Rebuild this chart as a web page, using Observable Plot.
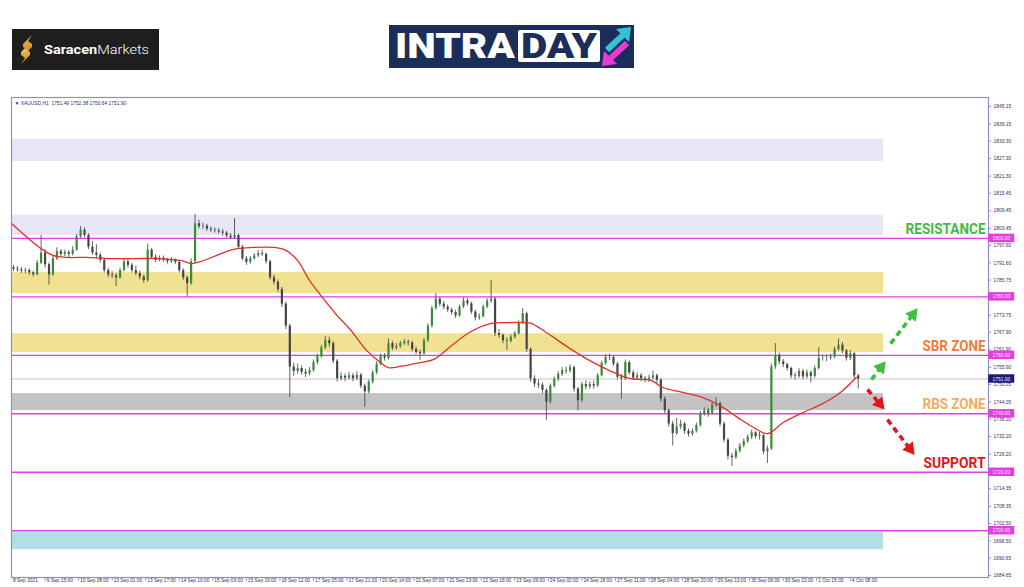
<!DOCTYPE html>
<html><head><meta charset="utf-8">
<script src="https://cdn.jsdelivr.net/npm/d3@7"></script>
<script src="https://cdn.jsdelivr.net/npm/@observablehq/plot@0.6"></script>
<style>
html,body{margin:0;padding:0;background:#fff;width:1024px;height:587px;overflow:hidden;font-family:Roboto,"Liberation Sans",sans-serif}
#header{position:relative;width:1024px;height:90px}
#chart svg{display:block}
</style></head><body>
<div id="header">
<svg width="1024" height="90" style="position:absolute;left:0;top:0">
 <defs><linearGradient id="gold" x1="0" y1="0" x2="0" y2="1"><stop offset="0" stop-color="#f6c453"/><stop offset="1" stop-color="#c88a1e"/></linearGradient></defs>
 <rect x="12" y="29" width="147" height="41" fill="#1e1e1e"/>
 <path d="M32 35 L23 44 L23 47 L28 51 L32 47 L32 44 L28 41 Z" fill="url(#gold)"/>
 <path d="M21 64 L30 55 L30 52 L25 48 L21 52 L21 55 L25 58 Z" fill="url(#gold)"/>
 <text x="44" y="54" font-family="Roboto" font-size="12.5" fill="#fff" textLength="105" lengthAdjust="spacingAndGlyphs"><tspan font-weight="700">Saracen</tspan><tspan font-weight="300">Markets</tspan></text>
 <rect x="389" y="25" width="245" height="43" fill="#1b2e5a"/>
 <text x="395" y="58" font-family="Roboto" font-weight="900" font-size="35" fill="#fff" textLength="120" lengthAdjust="spacingAndGlyphs">INTRA</text>
 <rect x="518" y="30" width="82" height="32" rx="2" fill="#fff"/>
 <text x="521" y="58" font-family="Roboto" font-weight="900" font-size="35" fill="#1b2e5a" textLength="76" lengthAdjust="spacingAndGlyphs">DAY</text>
 <line x1="607" y1="50" x2="623" y2="35" stroke="#2ec4d6" stroke-width="6"/>
 <polygon points="631,27 616,29 629,42" fill="#2ec4d6"/>
 <line x1="627" y1="43" x2="611" y2="58" stroke="#e83ad6" stroke-width="6"/>
 <polygon points="602,66 604,51 617,64" fill="#e83ad6"/>
</svg>
</div>
<div id="chart"></div>
<script>
// ---------- data ----------
const symbolHeader = "\u25BC XAUUSD,H1  1751.49 1752.38 1750.64 1751.90";
const xLabels = ["8 Sep 2021","9 Sep 15:00","10 Sep 08:00","13 Sep 01:00","13 Sep 17:00","14 Sep 10:00","15 Sep 03:00","15 Sep 19:00","16 Sep 12:00","17 Sep 05:00","17 Sep 21:00","20 Sep 14:00","21 Sep 07:00","21 Sep 23:00","22 Sep 16:00","23 Sep 09:00","24 Sep 02:00","24 Sep 18:00","27 Sep 11:00","28 Sep 04:00","28 Sep 20:00","29 Sep 13:00","30 Sep 06:00","30 Sep 22:00","1 Oct 15:00","4 Oct 08:00"];
const barsPerLabel = 17;
const yTickValues = [1845.15,1839.15,1833.30,1827.30,1821.30,1815.45,1809.45,1803.45,1797.60,1791.60,1785.75,1773.75,1767.90,1761.90,1755.90,1750.05,1744.05,1738.20,1732.20,1726.20,1714.35,1708.35,1702.50,1696.50,1690.65,1684.65];

// 2-hour candles (one entry per two H1 bars)
const firstOpen = 1790.0;
const closes = [
1789.5,1789.2,1788.8,1789.0,1788.2,1787.6,1791.5,1795.0,1791.0,1787.5,
1793.0,1795.5,1794.5,1795.2,1794.6,1796.0,1800.5,1802.8,1801.0,1797.0,
1795.0,1794.2,1792.5,1789.0,1787.5,1787.2,1786.5,1789.0,1792.0,1790.8,
1789.0,1788.0,1786.8,1785.6,1796.0,1793.5,1792.5,1793.2,1792.6,1792.0,
1792.5,1791.8,1789.0,1786.5,1784.5,1792.0,1805.0,1804.0,1804.2,1803.2,
1802.8,1802.6,1802.2,1801.8,1800.8,1800.2,1801.0,1797.0,1793.0,1791.8,
1793.0,1794.0,1794.8,1794.5,1792.0,1786.5,1785.0,1782.5,1777.5,1770.0,
1756.0,1754.5,1755.5,1754.2,1753.6,1754.8,1757.5,1759.5,1762.5,1765.0,
1764.0,1758.0,1752.0,1752.8,1752.2,1753.0,1752.0,1753.2,1749.5,1747.5,
1750.8,1754.0,1757.0,1759.5,1759.0,1764.0,1762.5,1763.0,1764.0,1764.5,
1764.2,1762.0,1761.0,1760.5,1765.0,1770.0,1776.0,1779.2,1777.5,1776.5,
1775.5,1774.6,1773.5,1776.5,1778.6,1777.6,1774.8,1772.8,1773.2,1776.5,
1778.5,1779.2,1767.5,1766.8,1765.0,1764.8,1766.2,1767.4,1771.0,1774.2,
1762.0,1752.0,1750.2,1749.8,1748.0,1744.0,1749.5,1751.8,1753.5,1754.8,
1754.6,1755.8,1748.5,1744.5,1750.0,1749.2,1750.0,1749.5,1753.0,1757.2,
1759.3,1759.2,1757.0,1752.5,1752.0,1757.5,1754.0,1752.2,1753.0,1752.0,
1751.6,1752.2,1753.0,1751.5,1745.0,1741.0,1736.5,1733.2,1735.5,1736.5,
1734.0,1733.0,1734.0,1736.0,1740.0,1741.0,1740.2,1743.0,1743.5,1736.5,
1731.0,1725.5,1725.0,1727.2,1729.0,1730.5,1732.0,1733.5,1732.2,1732.5,
1727.0,1728.0,1756.0,1760.0,1757.8,1756.8,1755.5,1753.0,1752.8,1754.5,
1752.6,1754.0,1752.8,1755.5,1759.0,1759.0,1759.0,1759.4,1762.0,1763.5,
1761.5,1759.0,1760.5,1753.0,1751.9];
const highs = [
1790.8,1790.4,1790.0,1789.8,1789.6,1788.8,1792.4,1801.0,1796.2,1791.6,
1793.8,1796.8,1796.2,1796.0,1795.8,1797.2,1801.4,1804.0,1803.6,1801.6,
1799.0,1797.8,1795.0,1793.2,1789.8,1788.6,1788.0,1789.8,1793.0,1792.8,
1791.4,1790.6,1788.8,1787.4,1798.0,1796.6,1794.4,1794.0,1794.0,1793.2,
1793.4,1793.0,1792.2,1789.6,1787.0,1793.0,1808.2,1806.2,1805.2,1804.8,
1804.0,1803.6,1803.4,1803.0,1802.4,1801.6,1806.8,1801.4,1797.6,1793.8,
1793.8,1794.8,1795.8,1796.0,1795.0,1792.6,1787.4,1785.8,1783.2,1778.2,
1770.6,1757.4,1757.0,1756.4,1755.2,1755.8,1758.4,1760.4,1763.4,1766.5,
1766.2,1764.6,1758.6,1754.0,1753.6,1754.2,1753.8,1754.4,1753.8,1750.2,
1751.6,1754.8,1757.8,1760.4,1760.6,1765.6,1764.8,1764.0,1764.8,1765.4,
1765.2,1764.8,1762.8,1761.8,1765.8,1770.8,1776.8,1781.2,1779.8,1778.4,
1777.2,1776.2,1775.4,1777.2,1779.6,1779.4,1778.2,1775.4,1774.2,1777.2,
1779.4,1785.6,1779.8,1768.8,1767.4,1766.0,1767.0,1768.2,1771.8,1776.0,
1774.8,1762.6,1753.0,1751.6,1750.6,1748.6,1750.2,1752.6,1754.4,1755.8,
1756.0,1756.8,1756.4,1749.0,1750.8,1751.4,1751.0,1751.2,1753.8,1758.0,
1760.2,1760.4,1759.8,1757.6,1753.4,1758.4,1758.0,1754.8,1754.0,1753.8,
1752.8,1753.2,1754.6,1753.6,1752.0,1745.8,1741.6,1737.4,1738.4,1737.8,
1737.0,1734.8,1734.8,1736.8,1740.8,1742.0,1741.8,1744.0,1745.5,1744.0,
1737.2,1731.6,1726.4,1728.0,1729.8,1731.4,1732.8,1734.4,1734.0,1733.6,
1733.0,1729.0,1757.0,1764.0,1760.8,1758.6,1757.4,1756.0,1754.0,1755.4,
1755.2,1755.0,1754.6,1756.4,1762.6,1760.0,1760.0,1760.4,1762.8,1765.6,
1764.4,1762.0,1761.6,1761.0,1753.6];
const lows = [
1788.6,1788.4,1788.0,1787.9,1787.4,1786.8,1787.2,1791.0,1789.8,1784.0,
1787.0,1792.4,1793.6,1793.8,1793.5,1794.0,1795.6,1800.0,1800.2,1796.2,
1794.2,1793.0,1791.6,1788.2,1786.6,1786.2,1783.5,1786.0,1788.6,1789.8,
1788.2,1787.2,1785.8,1784.6,1785.0,1792.8,1791.8,1792.0,1791.8,1791.2,
1791.4,1791.0,1788.2,1785.6,1780.0,1784.0,1791.5,1803.2,1803.0,1802.4,
1802.0,1801.8,1801.4,1800.8,1800.0,1799.6,1799.8,1796.2,1792.4,1790.8,
1791.2,1792.6,1793.4,1793.8,1791.2,1785.8,1784.0,1781.6,1776.4,1768.8,
1745.5,1752.8,1753.6,1753.2,1752.4,1753.0,1754.2,1756.8,1759.0,1762.0,
1762.8,1757.2,1750.8,1751.2,1751.0,1751.6,1751.0,1751.4,1748.6,1742.2,
1746.8,1750.2,1753.4,1756.4,1758.0,1758.4,1761.6,1761.8,1762.4,1763.4,
1763.2,1761.2,1760.2,1758.2,1760.0,1764.4,1769.4,1775.4,1776.6,1775.6,
1774.6,1773.8,1772.6,1773.0,1776.0,1776.8,1774.0,1771.8,1772.0,1772.8,
1776.0,1777.8,1766.4,1765.8,1764.0,1761.6,1764.2,1765.6,1767.0,1770.6,
1761.0,1750.8,1749.0,1748.6,1746.8,1737.7,1743.4,1748.8,1751.0,1752.8,
1753.6,1754.0,1747.4,1741.0,1744.0,1748.2,1748.4,1748.4,1749.0,1752.6,
1756.6,1758.2,1756.2,1751.6,1745.0,1751.4,1753.2,1751.4,1751.6,1751.0,
1750.6,1750.8,1751.6,1750.4,1744.0,1740.0,1735.4,1729.0,1732.6,1734.6,
1733.0,1732.0,1732.4,1733.4,1735.4,1739.2,1738.8,1739.6,1742.2,1735.6,
1730.0,1724.2,1722.0,1724.4,1726.6,1728.4,1729.8,1731.2,1731.4,1731.0,
1726.0,1723.0,1727.4,1755.2,1756.8,1755.8,1754.6,1752.0,1751.6,1752.2,
1751.6,1752.0,1750.6,1752.2,1755.0,1758.0,1757.8,1758.4,1758.8,1761.4,
1760.6,1758.0,1758.2,1752.0,1748.5];

// moving average (read at H1 bar positions)
const maBars = [0,8,15,21,28,38,49,62,75,86,91,96,104,112,122,133,139,145,151,158,165,172,180,187,191,197,207,214,222,232,243,251,259,263,271,283,293,303,313,324,330,340,350,359,368,376,383,391,401,411,420,428];
const maValues = [1805.1,1800.3,1796.5,1794.2,1793.5,1793.5,1793.1,1793.1,1793.1,1792.4,1791.4,1792.1,1794.2,1796.2,1796.9,1796.9,1795.9,1792.4,1785.6,1779.4,1773.6,1768.5,1761.6,1757.5,1755.8,1756.2,1757.5,1758.6,1762.8,1767.8,1770.9,1771.2,1771.2,1771.0,1767.8,1762.3,1758.2,1754.8,1752.1,1751.4,1749.0,1747.3,1745.6,1742.8,1738.7,1735.3,1733.2,1737.0,1740.4,1743.5,1747.3,1752.4];

// zones and levels
const zoneLow  = [1826.3,1801.0,1781.1,1761.0,1741.1,1693.5];
const zoneHigh = [1833.9,1807.9,1788.3,1767.4,1746.9,1699.4];
const zoneKind = ["blue","blue","yellow","yellow","grey","cyan"];
const zoneEndBar = 441.8;
const levels = [1800,1780,1760,1740,1720,1700];
const lastPrice = 1751.90;

// annotations
const labelText  = ["RESISTANCE","SBR ZONE","RBS ZONE","SUPPORT"];
const labelPrice = [1803.1,1763.0,1743.2,1723.0];
const arrowKind  = ["up","up","down","down"];
const arrowTailX = [445.4,435.7,433.7,443.8];
const arrowTailY = [1764.0,1751.7,1748.3,1738.0];
const arrowTipX  = [459.0,442.8,442.3,457.5];
const arrowTipY  = [1776.0,1757.9,1741.5,1726.0];

// ---------- layout / styles ----------
const W = 1024, H = 497, mT = 7, mB = 10, mL = 11, mR = 36;
const xMax = 495;
const yDomain = [1684.0, 1848.2];
const pxPerBar = (W - mL - mR) / xMax;
const pxPerUnit = (H - mT - mB) / (yDomain[1] - yDomain[0]);
const zoneColor = {blue: "#e6e6f6", yellow: "#f0e291", grey: "#c3c3c3", cyan: "#b0e0e6"};
const labelColor = {"RESISTANCE": "#3fba3f", "SBR ZONE": "#f07a3a", "RBS ZONE": "#f7aa64", "SUPPORT": "#e2141e"};
const labelWidth = {"RESISTANCE": 80, "SBR ZONE": 63, "RBS ZONE": 63, "SUPPORT": 62};
const arrowColor = {up: "#3ebd3e", down: "#e3161c"};
const frameColor = "#8f8fcf", axisText = "#2e2e6e", levelColor = "#e23fe2";
const smallFont = 4.9, axisFamily = "'Liberation Sans', Arial, sans-serif";

const candles = closes.map((c, k) => ({x: 2 * k + 1, o: k === 0 ? firstOpen : closes[k - 1], c, h: highs[k], l: lows[k]}));
const zones = zoneLow.map((lo, i) => ({lo, hi: zoneHigh[i], kind: zoneKind[i]}));
const ma = maBars.map((b, i) => ({b, v: maValues[i]}));
const xTicks = xLabels.map((t, i) => ({x: i * barsPerLabel, t}));
const labels = labelText.map((t, i) => ({t, y: labelPrice[i]}));
const arrows = arrowKind.map((kind, i) => {
  const dxp = (arrowTipX[i] - arrowTailX[i]) * pxPerBar;
  const dyp = -(arrowTipY[i] - arrowTailY[i]) * pxPerUnit;
  const len = Math.hypot(dxp, dyp), ux = dxp / len, uy = dyp / len;
  const back = (px) => ({x: arrowTipX[i] - ux * px / pxPerBar, y: arrowTipY[i] + uy * px / pxPerUnit});
  const shaftEnd = back(10), head = back(7.5);
  return {kind, x1: arrowTailX[i], y1: arrowTailY[i], x2: shaftEnd.x, y2: shaftEnd.y, hx: head.x, hy: head.y,
          angle: Math.atan2(ux, -uy) * 180 / Math.PI};
});
const small = {fontSize: smallFont, fontFamily: axisFamily};

const chart = Plot.plot({
  width: W, height: H,
  marginTop: mT, marginBottom: mB, marginLeft: mL, marginRight: mR,
  x: {domain: [0, xMax], axis: null},
  y: {domain: yDomain, axis: null},
  color: {type: "identity"},
  style: {background: "#fff", fontFamily: axisFamily, overflow: "visible"},
  marks: [
    Plot.rect(zones, {x1: () => 0, x2: () => zoneEndBar, y1: "lo", y2: "hi", fill: d => zoneColor[d.kind]}),
    Plot.ruleY([lastPrice], {stroke: "#c6c6c6", strokeWidth: 1}),
    Plot.ruleY(levels, {stroke: levelColor, strokeWidth: 1.4}),
    Plot.ruleX(candles, {x: "x", y1: "l", y2: "h", stroke: "#3c3c3c", strokeWidth: 0.8}),
    Plot.ruleX(candles.filter(d => d.c >= d.o), {x: "x", y1: "o", y2: "c", stroke: "#3b8a3b", strokeWidth: 2.2}),
    Plot.ruleX(candles.filter(d => d.c < d.o), {x: "x", y1: "o", y2: "c", stroke: "#454545", strokeWidth: 2.2}),
    Plot.line(ma, {x: "b", y: "v", stroke: "#e0302c", strokeWidth: 1.3, curve: "catmull-rom"}),
    Plot.frame({stroke: frameColor, strokeWidth: 1.2}),
    // right price axis
    Plot.ruleY(yTickValues, {x1: () => xMax, x2: () => xMax + 1.6, stroke: frameColor}),
    Plot.text(yTickValues, {y: d => d, text: d => d.toFixed(2), frameAnchor: "right", dx: 5, textAnchor: "start", fill: axisText, ...small}),
    Plot.rect(levels, {x1: () => xMax + 0.1, x2: () => xMax + 13.3, y1: d => d - 1.45, y2: d => d + 1.45, fill: levelColor}),
    Plot.text(levels, {y: d => d, text: d => d.toFixed(2), frameAnchor: "right", dx: 4, textAnchor: "start", fill: "#fbe6fb", ...small}),
    Plot.rect([lastPrice], {x1: () => xMax + 0.1, x2: () => xMax + 13.3, y1: d => d - 1.45, y2: d => d + 1.45, fill: "#1c1c78"}),
    Plot.text([lastPrice], {y: d => d, text: d => d.toFixed(2), frameAnchor: "right", dx: 4, textAnchor: "start", fill: "#e8e8ff", ...small}),
    // time axis
    Plot.ruleX(xTicks.slice(1), {x: "x", y1: () => yDomain[0], y2: () => yDomain[0] - 1.3, stroke: frameColor}),
    Plot.text(xTicks, {x: "x", text: "t", frameAnchor: "bottom", dy: 4.5, dx: 1.5, textAnchor: "start", fill: axisText, ...small}),
    Plot.text([symbolHeader], {frameAnchor: "top-left", dx: 3, dy: 4.5, textAnchor: "start", fill: axisText, ...small}),
    // annotations
    Plot.link(arrows, {x1: "x1", y1: "y1", x2: "x2", y2: "y2", stroke: d => arrowColor[d.kind], strokeWidth: 3.6, strokeDasharray: "6,4"}),
    Plot.dot(arrows, {x: "hx", y: "hy", symbol: "triangle", r: 5, fill: d => arrowColor[d.kind], stroke: "none", rotate: "angle"}),
    Plot.text(labels, {x: () => 493.5, y: "y", text: "t", textAnchor: "end", fontSize: 14.5, fontWeight: 700, fontFamily: "Roboto, 'Liberation Sans', sans-serif", fill: d => labelColor[d.t]})
  ]
});
document.getElementById("chart").appendChild(chart);
d3.select(chart).selectAll("text").each(function() {
  const t = this.textContent;
  const w = labelWidth[t];
  if (w) { this.setAttribute("textLength", w); this.setAttribute("lengthAdjust", "spacingAndGlyphs"); }
  else if (xLabels.includes(t)) {
    // keep time labels inside their 17-bar slot, as in the terminal's axis
    const maxW = barsPerLabel * pxPerBar - 5;
    if (this.getComputedTextLength() > maxW) { this.setAttribute("textLength", maxW); this.setAttribute("lengthAdjust", "spacingAndGlyphs"); }
  }
});
</script>
</body></html>
